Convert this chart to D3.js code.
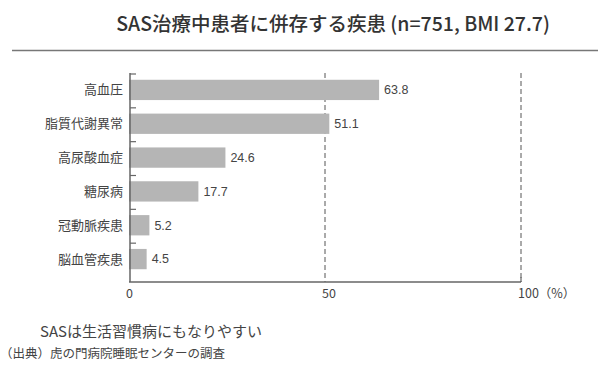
<!DOCTYPE html>
<html>
<head>
<meta charset="utf-8">
<script src="https://cdn.jsdelivr.net/npm/d3@7"></script>
<style>
  body { margin: 0; background: #fff; }
  text { font-family: "Noto Sans CJK JP", "Noto Sans", sans-serif; }
  .num { font-family: "Liberation Sans", Arial, sans-serif; }
</style>
</head>
<body>
<script>
// data
var categories = ['高血圧', '脂質代謝異常', '高尿酸血症', '糖尿病', '冠動脈疾患', '脳血管疾患'];
var values = [63.8, 51.1, 24.6, 17.7, 5.2, 4.5];
var tickValues = [0, 50, 100];
var tickLabels = ['0', '50', '100（%）'];

var width = 600, height = 383;
var plotLeft = 129, plotRight = 521, plotTop = 73, plotBottom = 276, axisY = 282;

var svg = d3.select('body').append('svg')
    .attr('width', width)
    .attr('height', height);

var x = d3.scaleLinear().domain([0, 100]).range([plotLeft, plotRight]);
var y = d3.scaleBand().domain(categories).range([plotTop, plotBottom]).paddingInner(0.4).paddingOuter(0.2);
var yTicks = d3.scaleBand().domain(categories).range([plotTop, plotBottom]);

// title
svg.append('text')
    .attr('x', 333)
    .attr('y', 31)
    .attr('text-anchor', 'middle')
    .attr('font-size', 19.5)
    .attr('font-weight', 500)
    .attr('fill', '#333')
    .text('SAS治療中患者に併存する疾患 (n=751, BMI 27.7)');

svg.append('line')
    .attr('x1', 12).attr('x2', 598)
    .attr('y1', 50.5).attr('y2', 50.5)
    .attr('stroke', '#777')
    .attr('stroke-width', 1.5);

// dashed grid
svg.selectAll('.grid').data([50, 100]).enter().append('line')
    .attr('x1', function (d) { return x(d); })
    .attr('x2', function (d) { return x(d); })
    .attr('y1', plotTop)
    .attr('y2', axisY)
    .attr('stroke', '#555')
    .attr('stroke-width', 1)
    .attr('stroke-dasharray', '5,3');

// bars
svg.selectAll('.bar').data(values).enter().append('rect')
    .attr('x', x(0))
    .attr('y', function (d, i) { return y(categories[i]); })
    .attr('width', function (d) { return x(d) - x(0); })
    .attr('height', y.bandwidth())
    .attr('fill', '#b5b5b5');

// value labels
svg.selectAll('.val').data(values).enter().append('text')
    .attr('class', 'num')
    .attr('x', function (d) { return x(d) + 5; })
    .attr('y', function (d, i) { return y(categories[i]) + y.bandwidth() / 2; })
    .attr('dy', '0.35em')
    .attr('font-size', 12.5)
    .attr('fill', '#444')
    .text(function (d) { return d.toFixed(1); });

// category labels
svg.selectAll('.cat').data(categories).enter().append('text')
    .attr('x', plotLeft - 6)
    .attr('y', function (d) { return y(d) + y.bandwidth() / 2; })
    .attr('dy', '0.35em')
    .attr('text-anchor', 'end')
    .attr('font-size', 13)
    .attr('fill', '#444')
    .text(function (d) { return d; });

// left axis with inward ticks
svg.append('line')
    .attr('x1', plotLeft + 1).attr('x2', plotLeft + 1)
    .attr('y1', plotTop).attr('y2', axisY)
    .attr('stroke', '#666').attr('stroke-width', 1.5);

svg.selectAll('.ytick').data(categories).enter().append('line')
    .attr('x1', plotLeft + 1).attr('x2', plotLeft + 7)
    .attr('y1', function (d) { return yTicks(d) + 1; })
    .attr('y2', function (d) { return yTicks(d) + 1; })
    .attr('stroke', '#666').attr('stroke-width', 1.2);

// bottom axis
svg.append('line')
    .attr('x1', plotLeft).attr('x2', x(100))
    .attr('y1', axisY).attr('y2', axisY)
    .attr('stroke', '#666').attr('stroke-width', 1.5);

svg.append('line')
    .attr('x1', x(100)).attr('x2', x(100))
    .attr('y1', axisY - 5).attr('y2', axisY)
    .attr('stroke', '#666').attr('stroke-width', 1.2);

svg.selectAll('.xlab').data(tickValues).enter().append('text')
    .attr('x', function (d) { return x(d) - 3; })
    .attr('y', 298)
    .attr('font-size', 12.5)
    .attr('fill', '#444')
    .text(function (d, i) { return tickLabels[i]; });

// notes
svg.append('text')
    .attr('x', 40).attr('y', 337)
    .attr('font-size', 15)
    .attr('fill', '#444')
    .text('SASは生活習慣病にもなりやすい');

svg.append('text')
    .attr('x', 0).attr('y', 358)
    .attr('font-size', 12.5)
    .attr('fill', '#444')
    .text('（出典）虎の門病院睡眠センターの調査');
</script>
</body>
</html>
